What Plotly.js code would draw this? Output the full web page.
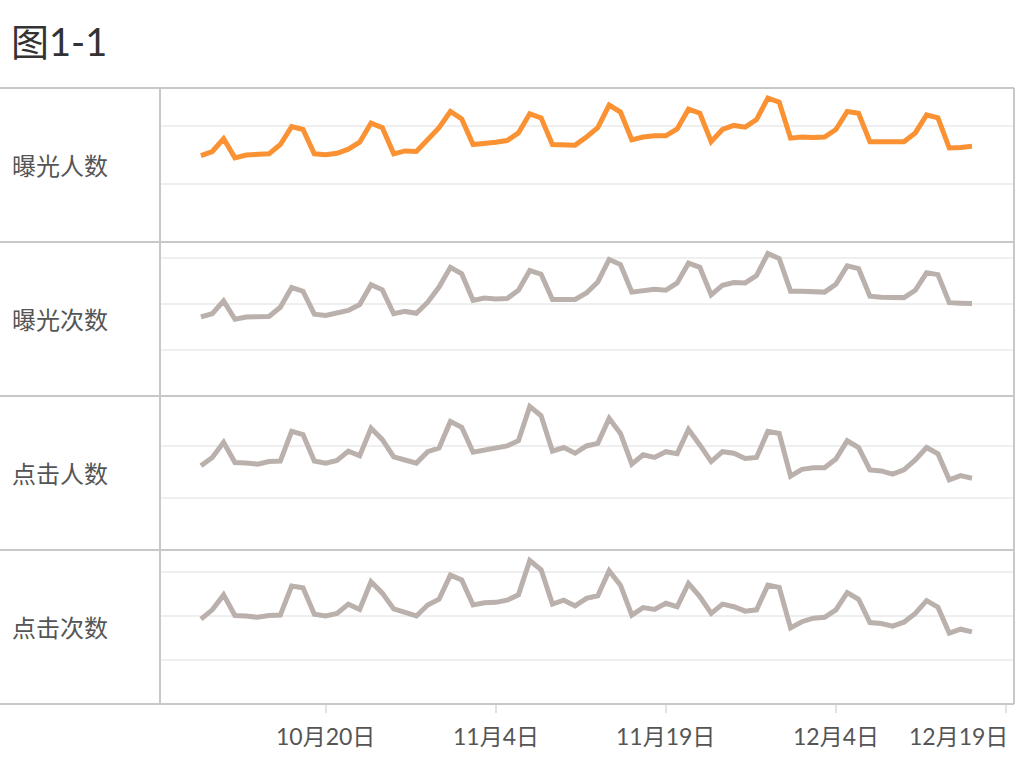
<!DOCTYPE html>
<html>
<head>
<meta charset="utf-8">
<script src="https://cdn.plot.ly/plotly-3.0.1.min.js"></script>
<style>html,body{margin:0;padding:0;background:#fff;}#chart{width:1018px;height:766px;}</style>
</head>
<body>
<div id="chart"></div>
<script>
// Daily dates (10月9日 – 12月16日)
const dates = [
 '2023-10-09','2023-10-10','2023-10-11','2023-10-12','2023-10-13','2023-10-14','2023-10-15','2023-10-16','2023-10-17','2023-10-18',
 '2023-10-19','2023-10-20','2023-10-21','2023-10-22','2023-10-23','2023-10-24','2023-10-25','2023-10-26','2023-10-27','2023-10-28',
 '2023-10-29','2023-10-30','2023-10-31','2023-11-01','2023-11-02','2023-11-03','2023-11-04','2023-11-05','2023-11-06','2023-11-07',
 '2023-11-08','2023-11-09','2023-11-10','2023-11-11','2023-11-12','2023-11-13','2023-11-14','2023-11-15','2023-11-16','2023-11-17',
 '2023-11-18','2023-11-19','2023-11-20','2023-11-21','2023-11-22','2023-11-23','2023-11-24','2023-11-25','2023-11-26','2023-11-27',
 '2023-11-28','2023-11-29','2023-11-30','2023-12-01','2023-12-02','2023-12-03','2023-12-04','2023-12-05','2023-12-06','2023-12-07',
 '2023-12-08','2023-12-09','2023-12-10','2023-12-11','2023-12-12','2023-12-13','2023-12-14','2023-12-15','2023-12-16'
];

// Measures (row names)
const measureNames = ['曝光人数', '曝光次数', '点击人数', '点击次数'];

// Values (in units of each row's gridline step)
const exposureUsers = [
 1.49,1.56,1.78,1.45,1.50,1.505,1.52,1.68,1.99,1.94,1.52,1.505,1.53,1.60,1.72,2.05,1.97,1.52,1.57,1.56,
 1.75,1.97,2.25,2.12,1.68,1.69,1.72,1.75,1.88,2.21,2.14,1.68,1.67,1.67,1.81,1.97,
 2.36,2.24,1.76,1.81,1.83,1.83,1.95,2.29,2.22,1.73,1.94,2.01,1.98,2.11,2.48,2.41,1.79,1.81,1.80,1.81,
 1.94,2.25,2.22,1.73,1.73,1.73,1.73,1.88,2.19,2.14,1.62,1.63,1.65
];
const exposureCount = [
 1.72,1.79,2.07,1.67,1.72,1.73,1.73,1.93,2.36,2.28,1.78,1.75,1.80,1.86,1.99,2.42,2.31,1.79,1.84,1.80,
 2.04,2.37,2.80,2.66,2.08,2.13,2.11,2.12,2.30,2.73,2.65,2.10,2.10,2.10,2.24,2.48,
 2.97,2.86,2.26,2.30,2.32,2.30,2.46,2.89,2.80,2.20,2.41,2.47,2.46,2.62,3.10,2.99,2.28,2.28,2.28,2.26,
 2.43,2.83,2.77,2.17,2.15,2.15,2.14,2.30,2.68,2.64,2.03,2.02,2.01
];
const clickUsers = [
 1.62,1.78,2.07,1.68,1.67,1.65,1.70,1.71,2.28,2.22,1.71,1.67,1.72,1.90,1.81,2.34,2.12,1.79,1.73,1.67,
 1.89,1.96,2.47,2.36,1.88,1.92,1.94,2.00,2.10,2.76,2.58,1.90,1.97,1.86,2.00,2.05,
 2.53,2.24,1.65,1.83,1.78,1.89,1.85,2.32,2.02,1.70,1.89,1.86,1.76,1.78,2.28,2.24,1.42,1.55,1.58,1.58,
 1.75,2.10,1.97,1.54,1.52,1.46,1.54,1.73,1.97,1.85,1.35,1.43,1.38
];
const clickCount = [
 1.93,2.14,2.48,2.01,2.00,1.97,2.01,2.02,2.68,2.64,2.04,2.00,2.06,2.27,2.15,2.78,2.52,2.16,2.08,2.00,
 2.25,2.38,2.93,2.82,2.25,2.30,2.31,2.36,2.48,3.26,3.05,2.27,2.36,2.23,2.40,2.46,
 3.03,2.70,2.02,2.19,2.15,2.29,2.21,2.74,2.44,2.06,2.27,2.21,2.11,2.14,2.70,2.65,1.73,1.87,1.95,1.97,
 2.14,2.53,2.38,1.85,1.83,1.77,1.86,2.06,2.35,2.20,1.61,1.70,1.64
];

// X tick labels
const tickDates = ['2023-10-20','2023-11-04','2023-11-19','2023-12-04','2023-12-19'];
const tickLabels = ['10月20日','11月4日','11月19日','12月4日','12月19日'];

const series = [exposureUsers, exposureCount, clickUsers, clickCount];
const colors = ['#FA9132', '#BAB0AC', '#BAB0AC', '#BAB0AC'];
const yTops = [2.655, 3.35, 2.96, 3.5];

const FONT = 'Lato, "Noto Sans CJK SC", sans-serif';
const traces = series.map((vals, k) => ({
  x: dates, y: vals, type: 'scatter', mode: 'lines',
  xaxis: 'x', yaxis: k === 0 ? 'y' : 'y' + (k + 1),
  line: {color: colors[k], width: 5, shape: 'linear'},
  hoverinfo: 'skip', showlegend: false
}));

const layout = {
  width: 1018, height: 766,
  margin: {l: 160, r: 4, t: 88, b: 62},
  paper_bgcolor: '#fff', plot_bgcolor: '#fff',
  font: {family: FONT, color: '#555'},
  title: {text: '图1-1', x: 0.0108, xanchor: 'left', xref: 'container',
          y: 1 - 43/766, yanchor: 'middle', yref: 'container',
          font: {family: FONT, size: 38, color: '#333'}},
  showlegend: false,
  xaxis: {
    type: 'date', anchor: 'y4',
    range: ['2023-10-05 09:20', '2023-12-19 17:00'],
    tickmode: 'array', tickvals: tickDates,
    ticks: 'outside', ticklen: 8, tickcolor: '#e2e2e2', tickwidth: 2,
    showticklabels: false,
    showgrid: false, zeroline: false, showline: false, fixedrange: true
  },
  annotations: [],
  shapes: []
};

// tick labels (last one kept inside the view, right-aligned like the original)
tickDates.forEach((d, i) => {
  const last = i === tickDates.length - 1;
  layout.annotations.push({
    text: tickLabels[i], xref: 'x', yref: 'paper', x: d, y: 0,
    xanchor: last ? 'right' : 'center', xshift: last ? 4 : 0,
    yanchor: 'middle', yshift: -32, showarrow: false,
    font: {family: FONT, size: 23, color: '#555'}
  });
});

const rowH = 0.25;
for (let k = 0; k < 4; k++) {
  const name = k === 0 ? 'yaxis' : 'yaxis' + (k + 1);
  const top = 1 - k * rowH, bot = 1 - (k + 1) * rowH;
  layout[name] = {
    domain: [bot, top], range: [0, yTops[k]], dtick: 1, tick0: 0,
    showticklabels: false, ticks: '', showgrid: true, gridcolor: '#efefef', gridwidth: 2,
    zeroline: false, showline: false, fixedrange: true, anchor: 'x'
  };
  layout.annotations.push({
    text: measureNames[k], xref: 'paper', yref: 'paper',
    x: 0, xshift: -150, xanchor: 'left', y: (top + bot) / 2, yanchor: 'middle',
    showarrow: false, font: {family: FONT, size: 24, color: '#555'}
  });
}

const leftEdge = -160 / 854;
const border = {color: '#c8c8c8', width: 2};
for (let k = 0; k <= 4; k++) {
  layout.shapes.push({type: 'line', xref: 'paper', yref: 'paper',
    x0: leftEdge, x1: 1, y0: 1 - k * rowH, y1: 1 - k * rowH, line: border, layer: 'above'});
}
layout.shapes.push({type: 'line', xref: 'paper', yref: 'paper', x0: 0, x1: 0, y0: 0, y1: 1, line: border, layer: 'above'});
layout.shapes.push({type: 'line', xref: 'paper', yref: 'paper', x0: 1, x1: 1, y0: 0, y1: 1, line: border, layer: 'above'});

Plotly.newPlot('chart', traces, layout, {displayModeBar: false, staticPlot: true});
</script>
</body>
</html>
